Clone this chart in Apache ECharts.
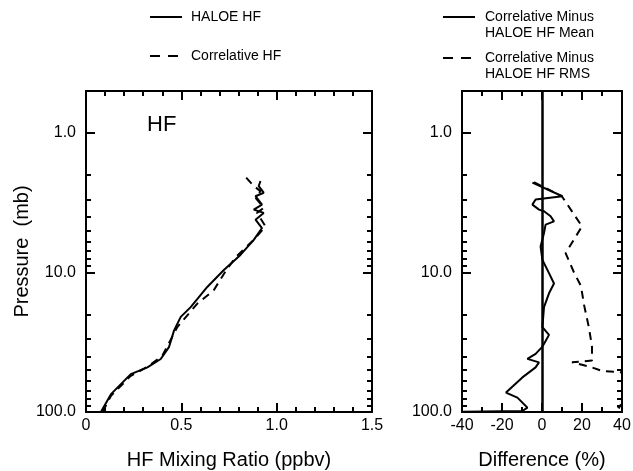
<!DOCTYPE html>
<html style="height: 100%">
<head>
    <meta charset="utf-8">
</head>
<body style="height: 100%; margin: 0; background: #fff">
<div id="container" style="width: 633px; height: 471px"></div>
<script type="text/javascript" src="https://cdn.jsdelivr.net/npm/echarts@6/dist/echarts.min.js"></script>
<script type="text/javascript">
// left panel: HF mixing ratio (ppbv) vs pressure (mb)
var haloePressure = [100, 74.5, 53.5, 47.9, 41.7, 34.3, 26, 20.8, 17.7, 12.7, 9.6, 7.48, 5.83, 4.8, 4.18, 3.74, 3.54, 3.26, 2.84, 2.68, 2.4, 2.21];
var haloeHF = [0.078, 0.131, 0.235, 0.322, 0.392, 0.435, 0.462, 0.497, 0.549, 0.636, 0.723, 0.81, 0.88, 0.923, 0.889, 0.932, 0.88, 0.923, 0.889, 0.932, 0.906, 0.915];
var corrPressure = [100, 76.6, 55, 47.5, 39.4, 24.6, 16.7, 13.4, 9.6, 7.69, 5.83, 4.67, 3.74, 3.44, 2.91, 2.61, 2.4, 2.09];
var correlativeHF = [0.087, 0.131, 0.235, 0.322, 0.401, 0.479, 0.584, 0.67, 0.736, 0.788, 0.88, 0.941, 0.897, 0.932, 0.889, 0.915, 0.88, 0.84];

// right panel: difference (%)
var meanPressure = [2.27, 2.84, 3.0, 3.26, 3.54, 3.64, 3.95, 4.3, 4.54, 5.21, 6.52, 8.12, 10.1, 12, 14.1, 17.7, 24.6, 28, 31, 34.3, 38.3, 41.6, 44.1, 47.9, 56.5, 72.6, 78.9, 93.1, 98.4, 99.6];
var meanDiff = [-4.8, 10.2, -3.2, -4.8, -1.5, 1.0, 4.3, 6, 1.8, 1, -0.7, 0.2, 3.5, 6, 3.5, 1, 0.2, 3.5, 1.8, 0, -3.2, -7.3, -1.5, -3.2, -9.8, -18, -12.3, -7.3, -9.8, -40];
var rmsPressure = [2.25, 2.85, 4.67, 7.27, 10, 12.5, 17, 25, 34, 42.8, 44, 47.9, 50.7, 52, 60, 80, 92, 100];
var rmsDiff = [-4, 10, 20, 11.8, 16, 19.5, 21, 23.5, 25, 25, 15, 25, 30, 40, 45, 44, 38, 42];

var pressureLabels = [1, 10, 100];
var pressureMinor = [2, 3, 4, 5, 6, 7, 8, 9, 20, 30, 40, 50, 60, 70, 80, 90];
var ratioMinor = [0.1, 0.2, 0.3, 0.4, 0.6, 0.7, 0.8, 0.9, 1.1, 1.2, 1.3, 1.4];
var diffMinor = [-30, -10, 10, 30];

function pairs(xs, ps) {
    var out = [];
    for (var i = 0; i < xs.length; i++) {
        out.push([xs[i], Math.log10(ps[i])]);
    }
    return out;
}
var majorLog = pressureLabels.map(function (p) { return Math.log10(p); });
var minorLog = pressureMinor.map(function (p) { return Math.log10(p); });

var FONT = 'Liberation Sans';
var dom = document.getElementById("container");
var myChart = echarts.init(dom, null, {renderer: 'canvas'});

function yAxes(grid, pos, withLabels) {
    var base = {
        type: 'value', gridIndex: grid, position: pos, inverse: true,
        min: Math.log10(0.5), max: 2, splitLine: {show: false}
    };
    var major = Object.assign({}, base, {
        axisLine: {show: true, onZero: false, lineStyle: {color: '#000', width: 2}},
        axisTick: {show: true, inside: true, length: 9, customValues: majorLog, lineStyle: {color: '#000', width: 2}},
        axisLabel: {show: withLabels, customValues: majorLog, margin: 10, color: '#000',
            fontFamily: FONT, fontSize: 16,
            formatter: function (v) { return Math.pow(10, v).toFixed(1); }}
    });
    var minor = Object.assign({}, base, {
        axisLine: {show: false, onZero: false},
        axisTick: {show: true, inside: true, length: 5, customValues: minorLog, lineStyle: {color: '#000', width: 2}},
        axisLabel: {show: false}
    });
    return [major, minor];
}

// major x axis (line, long ticks, labels)
function xAxis(grid, pos, min, max, step, withLabels) {
    return {
        type: 'value', gridIndex: grid, position: pos, min: min, max: max, interval: step,
        splitLine: {show: false},
        axisLine: {show: true, onZero: false, lineStyle: {color: '#000', width: 2}},
        axisTick: {show: true, inside: true, length: 9, lineStyle: {color: '#000', width: 2}},
        axisLabel: {show: withLabels, color: '#000', fontFamily: FONT, fontSize: 16, margin: 6,
            formatter: function (v) { return step < 1 ? (v === 0 ? '0' : v.toFixed(1)) : String(v); }}
    };
}
// minor x ticks only
function xMinor(grid, pos, min, max, values) {
    return {
        type: 'value', gridIndex: grid, position: pos, min: min, max: max,
        splitLine: {show: false},
        axisLine: {show: false, onZero: false},
        axisTick: {show: true, inside: true, length: 5, customValues: values, lineStyle: {color: '#000', width: 2}},
        axisLabel: {show: false}
    };
}

var yl = yAxes(0, 'left', true), yr = yAxes(0, 'right', false);
var yl2 = yAxes(1, 'left', true), yr2 = yAxes(1, 'right', false);

var nameStyle = {color: '#000', fontFamily: FONT, fontSize: 20};
var xLeft = xAxis(0, 'bottom', 0, 1.5, 0.5, true);
xLeft.name = 'HF Mixing Ratio (ppbv)';
xLeft.nameLocation = 'middle';
xLeft.nameGap = 38;
xLeft.nameTextStyle = nameStyle;
var xRight = xAxis(1, 'bottom', -40, 40, 20, true);
xRight.name = 'Difference (%)';
xRight.nameLocation = 'middle';
xRight.nameGap = 38;
xRight.nameTextStyle = nameStyle;

yl[0].name = 'Pressure  (mb)';
yl[0].nameLocation = 'middle';
yl[0].nameGap = 54;
yl[0].nameTextStyle = nameStyle;

var legendText = {fill: '#000', fontFamily: FONT, fontSize: 14, lineHeight: 16};

option = {
    backgroundColor: '#fff',
    animation: false,
    grid: [
        {left: 86, top: 91, width: 286, height: 321, outerBoundsMode: 'none', containLabel: false},
        {left: 462, top: 91, width: 160, height: 321, outerBoundsMode: 'none', containLabel: false}
    ],
    xAxis: [
        xLeft,
        xAxis(0, 'top', 0, 1.5, 0.5, false),
        xRight,
        xAxis(1, 'top', -40, 40, 20, false),
        xMinor(0, 'bottom', 0, 1.5, ratioMinor),
        xMinor(0, 'top', 0, 1.5, ratioMinor),
        xMinor(1, 'bottom', -40, 40, diffMinor),
        xMinor(1, 'top', -40, 40, diffMinor)
    ],
    yAxis: [yl[0], yr[0], yl[1], yr[1], yl2[0], yr2[0], yl2[1], yr2[1]],
    graphic: [
        {type: 'line', shape: {x1: 150, y1: 17, x2: 182, y2: 17}, style: {stroke: '#000', lineWidth: 2}},
        {type: 'text', left: 191, top: 9, style: Object.assign({text: 'HALOE HF'}, legendText)},
        {type: 'line', shape: {x1: 150, y1: 56, x2: 182, y2: 56}, style: {stroke: '#000', lineWidth: 2, lineDash: [10, 8]}},
        {type: 'text', left: 191, top: 48, style: Object.assign({text: 'Correlative HF'}, legendText)},
        {type: 'line', shape: {x1: 443, y1: 17, x2: 475, y2: 17}, style: {stroke: '#000', lineWidth: 2}},
        {type: 'text', left: 485, top: 9, style: Object.assign({text: 'Correlative Minus\nHALOE HF Mean'}, legendText)},
        {type: 'line', shape: {x1: 443, y1: 58, x2: 475, y2: 58}, style: {stroke: '#000', lineWidth: 2, lineDash: [10, 8]}},
        {type: 'text', left: 485, top: 50, style: Object.assign({text: 'Correlative Minus\nHALOE HF RMS'}, legendText)},
        {type: 'text', left: 147, top: 114, style: {text: 'HF', fill: '#000', fontFamily: FONT, fontSize: 22}}
    ],
    series: [
        {
            type: 'line', xAxisIndex: 0, yAxisIndex: 0, data: pairs(haloeHF, haloePressure),
            showSymbol: false, symbol: 'none', clip: true,
            lineStyle: {color: '#000', width: 2}
        },
        {
            type: 'line', xAxisIndex: 0, yAxisIndex: 0, data: pairs(correlativeHF, corrPressure),
            showSymbol: false, symbol: 'none', clip: true,
            lineStyle: {color: '#000', width: 2, type: [8, 6]}
        },
        {
            type: 'line', xAxisIndex: 2, yAxisIndex: 4, data: pairs(meanDiff, meanPressure),
            showSymbol: false, symbol: 'none', clip: true,
            lineStyle: {color: '#000', width: 2},
            markLine: {
                silent: true, symbol: 'none', label: {show: false},
                lineStyle: {color: '#000', width: 2.5, type: 'solid'},
                data: [{xAxis: 0}]
            }
        },
        {
            type: 'line', xAxisIndex: 2, yAxisIndex: 4, data: pairs(rmsDiff, rmsPressure),
            showSymbol: false, symbol: 'none', clip: true,
            lineStyle: {color: '#000', width: 2, type: [8, 6]}
        }
    ]
};

myChart.setOption(option);
</script>
</body>
</html>
